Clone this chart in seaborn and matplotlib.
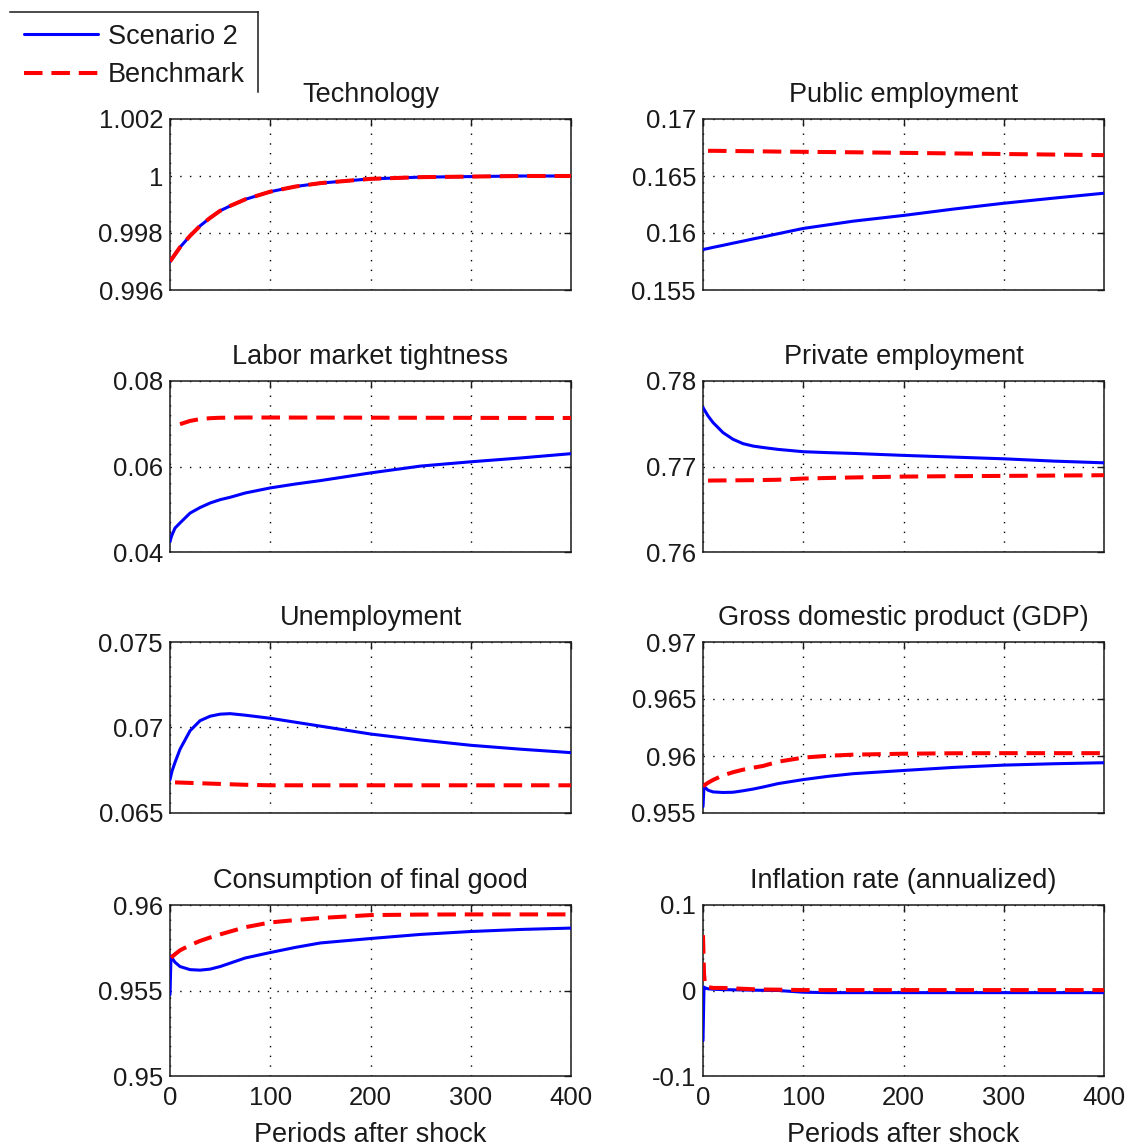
"""
Impulse responses: Scenario 2 vs Benchmark, 4x2 grid of panels.
"""

import numpy as np
import pandas as pd
import matplotlib
matplotlib.use("Agg")
import matplotlib.pyplot as plt
from matplotlib.ticker import FuncFormatter
import seaborn as sns

periods = [0, 1, 2, 5, 10, 20, 30, 40, 50, 60, 75, 100, 125, 150, 200, 250, 300, 350, 400]

nan = np.nan

tech_s2 = [0.99700, 0.99705, 0.99710, 0.99725, 0.99750, 0.99790, 0.99825, 0.99853, 0.99878, 0.99895,
           0.99918, 0.99945, 0.99963, 0.99975, 0.99990, 0.99996, 0.99998, 1.00000, 1.00000]
tech_bm = tech_s2

pub_s2 = [0.15855, 0.15857, 0.15859, 0.15864, 0.15874, 0.15892, 0.15911, 0.15929, 0.15948, 0.15966,
          0.15994, 0.16040, 0.16072, 0.16104, 0.16154, 0.16210, 0.16261, 0.16306, 0.16349]
pub_bm = [nan, nan, nan, 0.16721, 0.16721, 0.16720, 0.16719, 0.16718, 0.16717, 0.16716,
          0.16714, 0.16712, 0.16710, 0.16708, 0.16703, 0.16698, 0.16693, 0.16688, 0.16683]

lmt_s2 = [0.04243, 0.04330, 0.04400, 0.04560, 0.04680, 0.04910, 0.05040, 0.05146, 0.05224, 0.05280,
          0.05380, 0.05499, 0.05590, 0.05670, 0.05850, 0.06010, 0.06110, 0.06200, 0.06300]
lmt_bm = [nan, nan, nan, nan, 0.06990, 0.07066, 0.07110, 0.07130, 0.07140, 0.07143,
          0.07146, 0.07146, 0.07145, 0.07144, 0.07142, 0.07140, 0.07138, 0.07136, 0.07135]

priv_s2 = [0.77690, 0.77670, 0.77650, 0.77592, 0.77514, 0.77396, 0.77318, 0.77267, 0.77239, 0.77222,
           0.77200, 0.77173, 0.77162, 0.77153, 0.77130, 0.77110, 0.77090, 0.77063, 0.77043]
priv_bm = [nan, nan, nan, 0.76835, 0.76836, 0.76837, 0.76838, 0.76839, 0.76840, 0.76842,
           0.76845, 0.76859, 0.76866, 0.76872, 0.76882, 0.76887, 0.76890, 0.76894, 0.76898]

unemp_s2 = [0.06695, 0.06720, 0.06745, 0.06796, 0.06873, 0.06981, 0.07040, 0.07066, 0.07078, 0.07081,
            0.07072, 0.07054, 0.07031, 0.07008, 0.06962, 0.06927, 0.06896, 0.06873, 0.06853]
unemp_bm = [nan, nan, nan, 0.06679, 0.06678, 0.06676, 0.06674, 0.06672, 0.06670, 0.06668,
            0.06665, 0.06662, 0.06662, 0.06662, 0.06662, 0.06662, 0.06662, 0.06662, 0.06662]

gdp_s2 = [0.95556, 0.95733, 0.95725, 0.95700, 0.95685, 0.95680, 0.95682, 0.95695, 0.95710, 0.95728,
          0.95758, 0.95793, 0.95822, 0.95845, 0.95873, 0.95900, 0.95920, 0.95932, 0.95941]
gdp_bm = [0.95733, 0.95740, 0.95748, 0.95765, 0.95790, 0.95830, 0.95858, 0.95880, 0.95897, 0.95913,
          0.95950, 0.95986, 0.96002, 0.96012, 0.96020, 0.96024, 0.96025, 0.96025, 0.96025]

cons_s2 = [0.95476, 0.95702, 0.95690, 0.95665, 0.95640, 0.95622, 0.95619, 0.95625, 0.95640, 0.95660,
           0.95690, 0.95722, 0.95752, 0.95778, 0.95804, 0.95828, 0.95845, 0.95857, 0.95865]
cons_bm = [nan, 0.95692, 0.95697, 0.95712, 0.95735, 0.95765, 0.95790, 0.95810, 0.95828, 0.95845,
           0.95870, 0.95898, 0.95912, 0.95924, 0.95941, 0.95944, 0.95945, 0.95945, 0.95945]

infl_s2 = [-0.0588, 0.0040, 0.0030, 0.0020, 0.0015, 0.0010, 0.0008, 0.0006, 0.0004, 0.0002,
           0.0000, -0.0020, -0.0025, -0.0025, -0.0025, -0.0025, -0.0025, -0.0025, -0.0025]
infl_bm = [0.0647, 0.0200, 0.0060, 0.0040, 0.0030, 0.0030, 0.0025, 0.0020, 0.0015, 0.0012,
           0.0010, 0.0005, 0.0005, 0.0005, 0.0005, 0.0005, 0.0005, 0.0005, 0.0005]

titles = ["Technology", "Public employment", "Labor market tightness", "Private employment",
          "Unemployment", "Gross domestic product (GDP)", "Consumption of final good",
          "Inflation rate (annualized)"]
scenario_series = [tech_s2, pub_s2, lmt_s2, priv_s2, unemp_s2, gdp_s2, cons_s2, infl_s2]
benchmark_series = [tech_bm, pub_bm, lmt_bm, priv_bm, unemp_bm, gdp_bm, cons_bm, infl_bm]
y_limits = [(0.996, 1.002), (0.155, 0.17), (0.04, 0.08), (0.76, 0.78),
            (0.065, 0.075), (0.955, 0.97), (0.95, 0.96), (-0.1, 0.1)]
y_ticks = [[0.996, 0.998, 1.0, 1.002], [0.155, 0.16, 0.165, 0.17], [0.04, 0.06, 0.08],
           [0.76, 0.77, 0.78], [0.065, 0.07, 0.075], [0.955, 0.96, 0.965, 0.97],
           [0.95, 0.955, 0.96], [-0.1, 0, 0.1]]
x_ticks = [0, 100, 200, 300, 400]
legend_labels = ["Scenario 2", "Benchmark"]

sns.set_style("white")
plt.rcParams["font.family"] = ["Liberation Sans", "DejaVu Sans"]

FS = 18.5
TFS = 19.5
TXT = "#1a1a1a"
fig = plt.figure(figsize=(11.29, 11.46), dpi=100)

lefts = [170 / 1129, 703 / 1129]
width = 401 / 1129
bottoms = [1 - 290 / 1146, 1 - 552 / 1146, 1 - 813 / 1146, 1 - 1076 / 1146]
height = 171 / 1146

gfmt = FuncFormatter(lambda v, p: "%g" % round(v, 6))

axes = []
for i, title in enumerate(titles):
    row, col = divmod(i, 2)
    ax = fig.add_axes([lefts[col], bottoms[row], width, height])
    df = pd.DataFrame({"period": periods,
                       legend_labels[0]: scenario_series[i],
                       legend_labels[1]: benchmark_series[i]})
    sns.lineplot(data=df, x="period", y=legend_labels[0], ax=ax, color="#0000ff",
                 linewidth=2.2, label=legend_labels[0], legend=False, zorder=3)
    sns.lineplot(data=df, x="period", y=legend_labels[1], ax=ax, color="#ff0000",
                 linewidth=2.9, linestyle=(0, (4.6, 2.2)), label=legend_labels[1],
                 legend=False, zorder=4)
    ax.set_xlim(0, 400)
    ax.set_ylim(*y_limits[i])
    ax.set_xticks(x_ticks)
    ax.set_yticks(y_ticks[i])
    ax.yaxis.set_major_formatter(gfmt)
    ax.grid(True, color="black", linestyle=(0, (1, 6)), linewidth=1.0)
    ax.tick_params(direction="in", top=True, right=True, length=5, width=1,
                   labelsize=FS, colors=TXT, pad=5)
    ax.tick_params(axis="x", pad=7)
    for s in ax.spines.values():
        s.set_color(TXT)
        s.set_linewidth(1.1)
    ax.set_title(title, fontsize=TFS, color=TXT, pad=12)
    ax.set_ylabel("")
    if row == 3:
        ax.set_xlabel("Periods after shock", fontsize=TFS, color=TXT, labelpad=9)
    else:
        ax.set_xlabel("")
        ax.set_xticklabels([])
    axes.append(ax)

# legend box (only top and right edges visible in the original)
lax = fig.add_axes([10 / 1129, 1 - 92 / 1146, 248 / 1129, 80 / 1146])
lax.set_xticks([])
lax.set_yticks([])
lax.patch.set_alpha(0)
for side in ["left", "bottom"]:
    lax.spines[side].set_visible(False)
for side in ["top", "right"]:
    lax.spines[side].set_color(TXT)
    lax.spines[side].set_linewidth(1.1)
handles, labels = axes[0].get_legend_handles_labels()
lax.legend(handles, labels, loc="center left", bbox_to_anchor=(0.0, 0.45), frameon=False,
           fontsize=TFS, handlelength=2.75, handletextpad=0.35, labelspacing=0.45,
           borderaxespad=0.1, labelcolor=TXT)

fig.savefig("out.png", dpi=100)
